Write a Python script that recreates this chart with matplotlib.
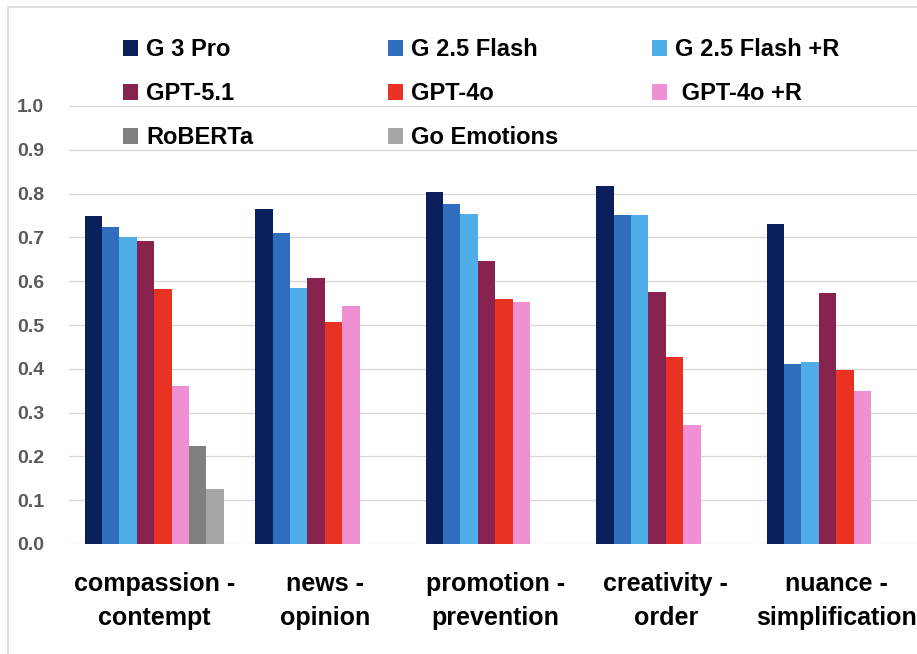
"""
Emotion-axis agreement per model, grouped bar chart
"""

import numpy as np
import matplotlib
matplotlib.use('Agg')
import matplotlib.pyplot as plt
from matplotlib.patches import Rectangle

# categories (two-line labels as in the original chart)
categories = ['compassion -\ncontempt', 'news -\nopinion', 'promotion -\nprevention',
              'creativity -\norder', 'nuance -\nsimplification']

models = ['G 3 Pro', 'G 2.5 Flash', 'G 2.5 Flash +R',
          'GPT-5.1', 'GPT-4o', ' GPT-4o +R',
          'RoBERTa', 'Go Emotions']

g3_pro      = [0.748, 0.765, 0.804, 0.818, 0.731]
g25_flash   = [0.723, 0.709, 0.776, 0.751, 0.412]
g25_flash_r = [0.701, 0.585, 0.753, 0.751, 0.415]
gpt_51      = [0.692, 0.607, 0.647, 0.575, 0.572]
gpt_4o      = [0.582, 0.507, 0.560, 0.428, 0.397]
gpt_4o_r    = [0.361, 0.543, 0.552, 0.272, 0.350]
roberta     = [0.224, np.nan, np.nan, np.nan, np.nan]
go_emotions = [0.126, np.nan, np.nan, np.nan, np.nan]

series = [g3_pro, g25_flash, g25_flash_r, gpt_51, gpt_4o, gpt_4o_r, roberta, go_emotions]
colors = ['#0B1F5C', '#2F6EBE', '#4FAEE9', '#88224F',
          '#E83323', '#EF90D3', '#808080', '#A6A6A6']

yticks = np.arange(0, 1.01, 0.1)

plt.rcParams['font.family'] = ['Liberation Sans', 'DejaVu Sans']

W, H = 917, 654
fig = plt.figure(figsize=(W / 100, H / 100), dpi=100)
ax = fig.add_axes([69 / W, 110 / H, 852.5 / W, 438 / H])

# bars: 8 slots per category, empty slots kept for the missing baselines
bar_w = 0.102
x = np.arange(len(categories))
handles = []
for j, (vals, col) in enumerate(zip(series, colors)):
    offs = -4 * bar_w + bar_w * (j + 0.5)
    b = ax.bar(x + offs, vals, width=bar_w, color=col, linewidth=0, zorder=3)
    handles.append(b)

ax.set_xlim(-0.5, len(categories) - 0.5)
ax.set_ylim(0, 1.0)
ax.set_yticks(yticks)
ax.set_yticklabels([f'{v:.1f}' for v in yticks], fontsize=14, fontweight='bold', color='#595959')
ax.set_xticks(x)
ax.set_xticklabels(categories, fontsize=18, fontweight='bold', color='black', linespacing=1.55)
ax.tick_params(axis='y', length=0, pad=18)
ax.tick_params(axis='x', length=0, pad=20)

ax.yaxis.grid(True, color='#D9D9D9', linewidth=1.0, zorder=0)
ax.set_axisbelow(True)
for s in ax.spines.values():
    s.set_visible(False)

# legend laid out in three columns, row-major like the original
col_x = [123, 388, 652]
for c in range(3):
    idx = list(range(c, len(models), 3))
    fig.legend([handles[i] for i in idx], [models[i] for i in idx],
               loc='upper left', bbox_to_anchor=(col_x[c] / W, 1 - 38 / H),
               frameon=False, borderpad=0, borderaxespad=0,
               handlelength=0.62, handleheight=0.65, handletextpad=0.37,
               labelspacing=0.9, prop={'weight': 'bold', 'size': 17})

# light chart-area border (cropped on the right and bottom)
fig.add_artist(Rectangle((8 / W, -0.1), 1.2, 1.1 - 7 / H, transform=fig.transFigure,
                         fill=False, edgecolor='#D9D9D9', linewidth=1.2))

fig.savefig('out.png', dpi=100)
